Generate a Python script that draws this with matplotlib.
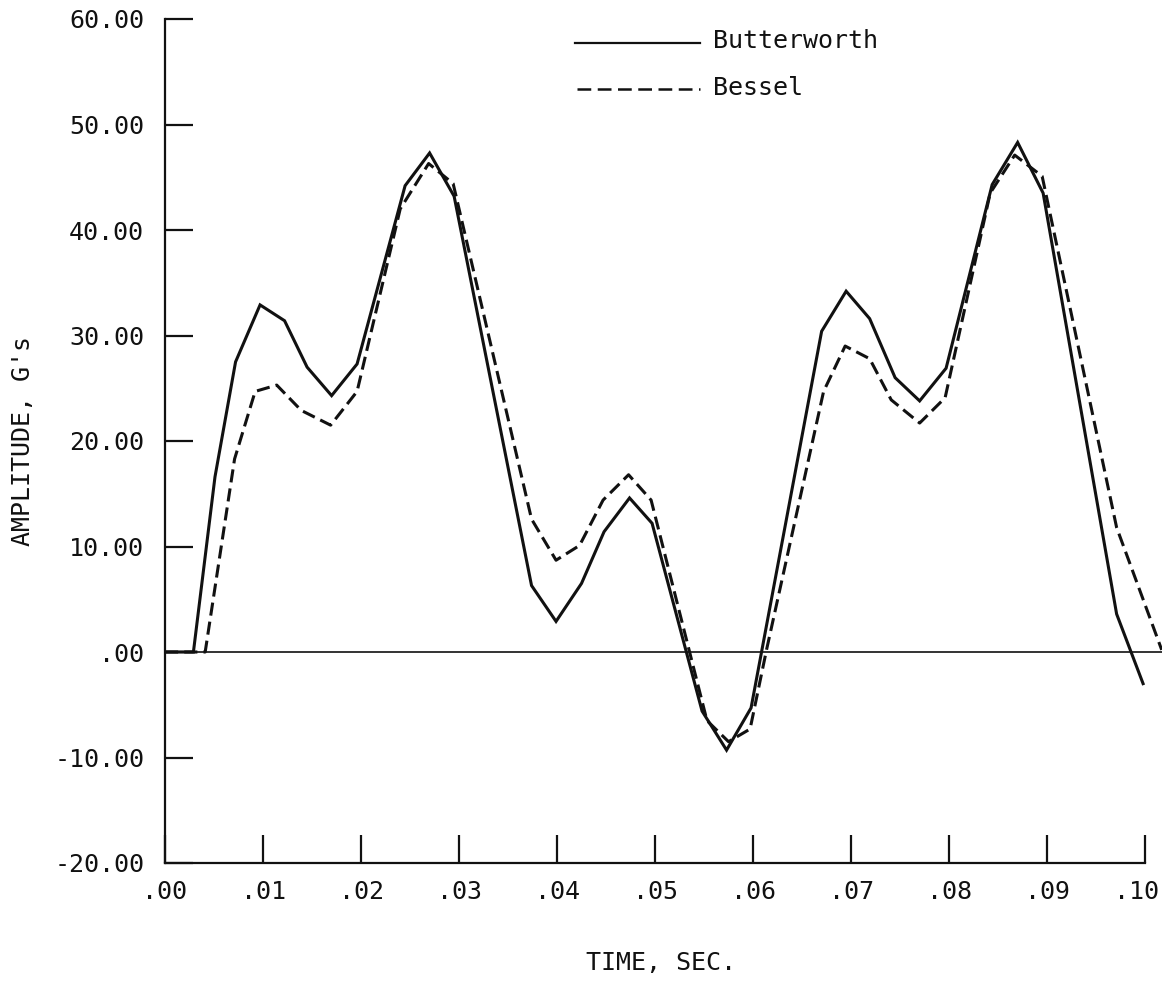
import matplotlib

matplotlib.use("Agg")

import matplotlib.pyplot as plt
from matplotlib.lines import Line2D
from matplotlib.transforms import ScaledTranslation


# filter responses, time in seconds, amplitude in G's
BUTTER_T = [0.0, 0.0029, 0.0051, 0.0072, 0.0097, 0.0122, 0.0145, 0.0170,
            0.0196, 0.0245, 0.0270, 0.0295, 0.0374, 0.0399, 0.0425, 0.0448,
            0.0474, 0.0497, 0.0548, 0.0573, 0.0598, 0.0670, 0.0695, 0.0719,
            0.0745, 0.0770, 0.0797, 0.0844, 0.0870, 0.0896, 0.0971, 0.0998]
BUTTER_G = [0.0, 0.0, 16.6, 27.5, 32.9, 31.4, 27.0, 24.3,
            27.3, 44.2, 47.3, 43.2, 6.3, 2.9, 6.5, 11.4,
            14.6, 12.2, -5.6, -9.3, -5.3, 30.4, 34.2, 31.6,
            26.0, 23.8, 26.9, 44.3, 48.3, 43.5, 3.6, -3.0]

BESSEL_T = [0.0, 0.0041, 0.0071, 0.0092, 0.0114, 0.0139, 0.0169, 0.0196,
            0.0240, 0.0269, 0.0294, 0.0374, 0.0399, 0.0423, 0.0447, 0.0473,
            0.0496, 0.0553, 0.0575, 0.0597, 0.0614, 0.0672, 0.0694, 0.0719,
            0.0741, 0.0770, 0.0796, 0.0842, 0.0867, 0.0895, 0.0971, 0.1017]
BESSEL_G = [0.0, 0.0, 18.3, 24.7, 25.3, 22.9, 21.5, 24.7,
            42.0, 46.3, 44.4, 12.6, 8.7, 10.1, 14.4, 16.8,
            14.4, -6.5, -8.5, -7.3, 0.3, 24.7, 29.0, 27.8,
            23.9, 21.7, 24.1, 43.5, 47.1, 45.1, 11.8, 0.2]

X_TICKS = [0.00, 0.01, 0.02, 0.03, 0.04, 0.05, 0.06, 0.07, 0.08, 0.09, 0.10]
X_LABELS = [".00", ".01", ".02", ".03", ".04", ".05", ".06", ".07", ".08",
            ".09", ".10"]
Y_TICKS = [60, 50, 40, 30, 20, 10, 0, -10, -20]
Y_LABELS = ["60.00", "50.00", "40.00", "30.00", "20.00", "10.00", ".00",
            "-10.00", "-20.00"]

INK = "#111111"
FONT = "DejaVu Sans Mono"
FS = 18
W, H = 1162, 984


def px(x, y):
    # figure fraction from pixel position (origin top left)
    return x / W, 1 - y / H


def main():
    plt.rcParams["font.family"] = FONT

    fig = plt.figure(figsize=(W / 100, H / 100), dpi=100)
    left, bottom = px(165, 863)
    _, top = px(165, 19)
    ax = fig.add_axes([left, bottom, 1 - left, top - bottom])

    ax.plot(BUTTER_T, BUTTER_G, color=INK, lw=2.2, solid_joinstyle="miter")
    ax.plot(BESSEL_T, BESSEL_G, color=INK, lw=2.2, linestyle=(0, (4.3, 2.0)))
    ax.axhline(0, color=INK, lw=1.2)

    ax.set_xlim(0, 0.10173)
    ax.set_ylim(-20, 60)

    for side in ("top", "right"):
        ax.spines[side].set_visible(False)
    ax.spines["left"].set_bounds(-20, 60)
    ax.spines["bottom"].set_bounds(0, 0.10)
    for side in ("left", "bottom"):
        ax.spines[side].set_linewidth(1.6)
        ax.spines[side].set_color(INK)

    ax.set_xticks(X_TICKS)
    ax.set_xticklabels(X_LABELS)
    ax.set_yticks(Y_TICKS)
    ax.set_yticklabels(Y_LABELS)
    ax.tick_params(axis="both", direction="in", length=20, width=1.6,
                   colors=INK, labelsize=FS)
    ax.tick_params(axis="y", pad=15)
    ax.tick_params(axis="x", pad=12)

    # last time label sits a little left of its tick so it stays on the page
    last = ax.get_xticklabels()[-1]
    last.set_transform(last.get_transform()
                       + ScaledTranslation(-0.09, 0, fig.dpi_scale_trans))

    fig.text(*px(23, 441), "AMPLITUDE, G's", rotation=90, ha="center",
             va="center", fontsize=FS, color=INK)
    fig.text(*px(661, 963), "TIME, SEC.", ha="center", va="center",
             fontsize=FS, color=INK)

    # legend key drawn in figure space
    x0, yb = px(575, 43)
    x1, _ = px(700, 43)
    fig.add_artist(Line2D([x0, x1], [yb, yb], color=INK, lw=1.6,
                          transform=fig.transFigure))
    x0, yd = px(577, 89)
    fig.add_artist(Line2D([x0, x1], [yd, yd], color=INK, lw=1.8,
                          linestyle=(0, (5.5, 2.6)),
                          transform=fig.transFigure))
    fig.text(*px(713, 41), "Butterworth", ha="left", va="center",
             fontsize=FS, color=INK)
    fig.text(*px(713, 88), "Bessel", ha="left", va="center",
             fontsize=FS, color=INK)

    fig.savefig("out.png", dpi=100)
    plt.close(fig)


if __name__ == "__main__":
    main()
